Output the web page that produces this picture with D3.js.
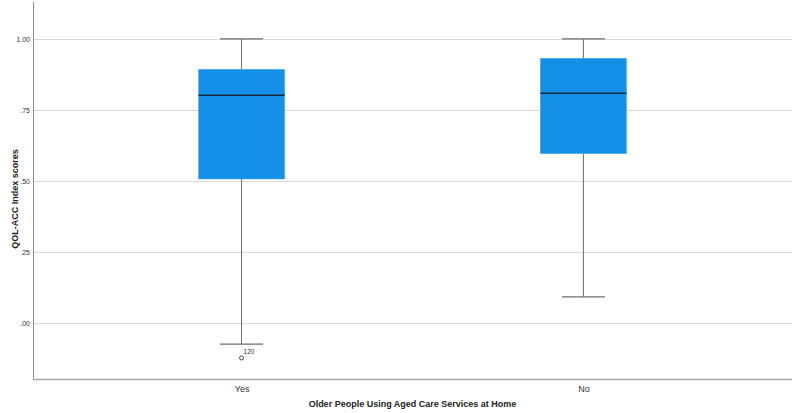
<!DOCTYPE html>
<html>
<head>
<meta charset="utf-8">
<style>
  body { margin: 0; background: #fff; }
  text { font-family: "Liberation Sans", Arial, sans-serif; }
</style>
</head>
<body>
<script src="https://d3js.org/d3.v7.min.js"></script>
<script>
// data
var groups = ["Yes", "No"];
var lowWhisker = [-0.074, 0.092];
var q1 = [0.507, 0.596];
var median = [0.802, 0.809];
var q3 = [0.893, 0.932];
var highWhisker = [1.00, 1.00];
var outliers = [{group: "Yes", value: -0.123, label: "120"}];
var yTicks = [0, 0.25, 0.5, 0.75, 1.0];
var yTickLabels = [".00", ".25", ".50", ".75", "1.00"];

var W = 794, H = 413;
var plot = {left: 33, right: 792, top: 2, bottom: 379};

var svg = d3.select("body").append("svg")
  .attr("width", W)
  .attr("height", H);

var y = d3.scaleLinear()
  .domain([-0.197, 1.13])
  .range([plot.bottom, plot.top]);

var x = d3.scalePoint()
  .domain(groups)
  .range([plot.left, plot.right])
  .padding(0.61);

var boxW = x.step() * 0.252;
var capW = x.step() * 0.126;

// gridlines
svg.append("g")
  .selectAll("line")
  .data(yTicks)
  .enter()
  .append("line")
    .attr("x1", plot.left)
    .attr("x2", plot.right)
    .attr("y1", function(d){ return Math.round(y(d)) + 0.5; })
    .attr("y2", function(d){ return Math.round(y(d)) + 0.5; })
    .attr("stroke", "#d9d9d9")
    .attr("stroke-width", 1.2);

// y axis
var yAxis = svg.append("g")
  .attr("transform", "translate(" + plot.left + ",0)")
  .call(d3.axisLeft(y).tickValues(yTicks).tickSize(0).tickPadding(3)
    .tickFormat(function(d, i){ return yTickLabels[i]; }));
yAxis.select(".domain").remove();
yAxis.selectAll("text")
  .attr("font-size", 7)
  .attr("fill", "#333")
  .attr("font-family", "Liberation Sans, Arial, sans-serif");

svg.append("line")
  .attr("x1", plot.left + 0.5).attr("x2", plot.left + 0.5)
  .attr("y1", plot.top).attr("y2", plot.bottom)
  .attr("stroke", "#8c8c8c").attr("stroke-width", 1);

// x axis
var xAxis = svg.append("g")
  .attr("transform", "translate(0," + plot.bottom + ")")
  .call(d3.axisBottom(x).tickSize(0).tickPadding(7));
xAxis.select(".domain").remove();
xAxis.selectAll("text")
  .attr("font-size", 9)
  .attr("fill", "#333")
  .attr("font-family", "Liberation Sans, Arial, sans-serif");

svg.append("line")
  .attr("x1", plot.left).attr("x2", plot.right)
  .attr("y1", plot.bottom + 0.5).attr("y2", plot.bottom + 0.5)
  .attr("stroke", "#a6a6a6").attr("stroke-width", 1.6);

// axis titles
svg.append("text")
  .attr("x", (plot.left + plot.right) / 2)
  .attr("y", 407)
  .attr("text-anchor", "middle")
  .attr("font-size", 9)
  .attr("font-weight", "bold")
  .attr("fill", "#222")
  .text("Older People Using Aged Care Services at Home");

svg.append("text")
  .attr("transform", "translate(18,199) rotate(-90)")
  .attr("text-anchor", "middle")
  .attr("font-size", 9)
  .attr("font-weight", "bold")
  .attr("fill", "#222")
  .text("QOL-ACC Index scores");

// boxes
var boxes = svg.append("g")
  .selectAll("g")
  .data(groups)
  .enter()
  .append("g");

boxes.append("line")
  .attr("x1", function(d){ return x(d); })
  .attr("x2", function(d){ return x(d); })
  .attr("y1", function(d, i){ return y(lowWhisker[i]); })
  .attr("y2", function(d, i){ return y(highWhisker[i]); })
  .attr("stroke", "#6e6e6e").attr("stroke-width", 1);

boxes.selectAll(".cap")
  .data(function(d, i){ return [[d, lowWhisker[i]], [d, highWhisker[i]]]; })
  .enter()
  .append("line")
    .attr("class", "cap")
    .attr("x1", function(d){ return x(d[0]) - capW / 2; })
    .attr("x2", function(d){ return x(d[0]) + capW / 2; })
    .attr("y1", function(d){ return y(d[1]); })
    .attr("y2", function(d){ return y(d[1]); })
    .attr("stroke", "#6e6e6e").attr("stroke-width", 1.2);

boxes.append("rect")
  .attr("x", function(d){ return x(d) - boxW / 2; })
  .attr("width", boxW)
  .attr("y", function(d, i){ return y(q3[i]); })
  .attr("height", function(d, i){ return y(q1[i]) - y(q3[i]); })
  .attr("fill", "#1490e8")
  .attr("stroke", "#4aa8ee")
  .attr("stroke-width", 0.5);

boxes.append("line")
  .attr("x1", function(d){ return x(d) - boxW / 2; })
  .attr("x2", function(d){ return x(d) + boxW / 2; })
  .attr("y1", function(d, i){ return y(median[i]); })
  .attr("y2", function(d, i){ return y(median[i]); })
  .attr("stroke", "#13263a").attr("stroke-width", 1.6);

// outliers
var out = svg.append("g")
  .selectAll("g")
  .data(outliers)
  .enter()
  .append("g");

out.append("circle")
  .attr("cx", function(d){ return x(d.group); })
  .attr("cy", function(d){ return y(d.value); })
  .attr("r", 2)
  .attr("fill", "none")
  .attr("stroke", "#333")
  .attr("stroke-width", 0.9);

out.append("text")
  .attr("x", function(d){ return x(d.group) + 2; })
  .attr("y", function(d){ return y(d.value) - 4; })
  .attr("font-size", 6.5)
  .attr("fill", "#333")
  .text(function(d){ return d.label; });
</script>
</body>
</html>
